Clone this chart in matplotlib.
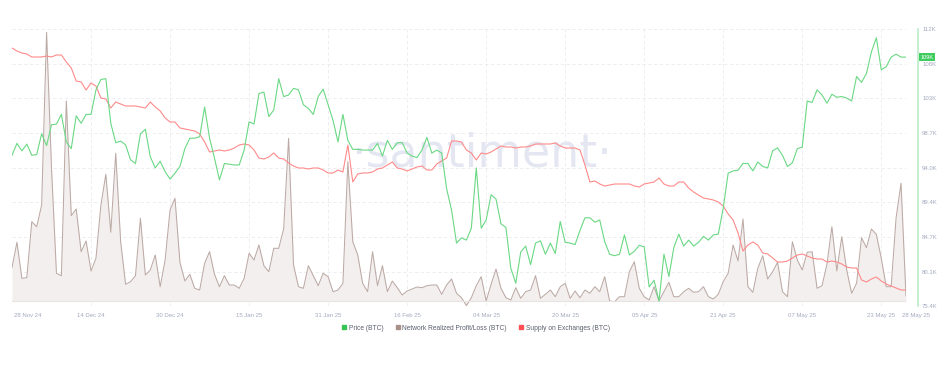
import pandas as pd
import matplotlib.pyplot as plt
from matplotlib.lines import Line2D
import numpy as np

plt.rcParams['font.family'] = ['Liberation Sans', 'DejaVu Sans']

dates = pd.date_range('2024-11-28', '2025-05-28', freq='D')

# BTC price, thousands USD
price = [95.7, 97.3, 96.3, 97.2, 95.7, 95.8, 98.6, 97.0, 99.8, 99.9, 101.2, 97.5, 96.6, 101.0, 100.0, 101.2, 101.2,
         104.5, 105.9, 106.0, 100.0, 97.4, 97.6, 97.1, 95.1, 94.6, 98.6, 99.2, 95.5, 94.0, 94.9, 93.5, 92.5, 93.3,
         94.2, 96.6, 98.0,
         98.0, 98.2, 102.2, 98.0, 95.3, 92.4, 94.6, 94.5, 94.4, 94.4, 96.4, 100.2, 99.9, 104.0, 104.2, 100.9, 101.8,
         106.0, 103.6, 103.8, 104.7, 104.5, 102.5, 102.0, 101.2, 103.6, 104.6, 102.5, 100.4, 97.5, 101.2, 97.7, 96.5,
         96.5, 96.4, 96.4,
         96.4, 97.3, 95.6, 97.7, 96.5, 97.4, 97.4, 96.0, 95.6, 95.4, 96.4, 98.1, 96.0, 96.4, 96.0, 91.2, 88.3, 83.9,
         84.6, 84.3, 85.9, 94.0, 85.9, 87.0, 90.4, 89.8, 86.5, 86.0, 80.5, 78.5, 82.7, 83.5, 81.0, 83.9, 84.2, 82.4,
         83.9, 82.5, 86.8, 84.0, 83.9, 83.7, 85.6, 87.3, 87.3, 86.7, 87.0, 84.1, 82.4, 82.2, 82.4, 85.0, 82.3, 82.8,
         83.6, 83.4, 78.0, 78.9, 76.1, 82.4, 79.4, 83.3, 85.1, 83.5, 84.3, 83.5, 84.0, 84.8, 84.3, 85.0, 85.1, 88.6,
         93.3, 93.6, 93.7, 94.6, 94.6, 93.6, 94.8, 94.2, 94.0, 96.3, 96.7, 95.7, 94.2, 94.7, 96.6, 96.8, 103.0, 102.8,
         104.5, 103.8, 102.7, 103.9, 103.5, 103.6, 103.4, 103.0, 106.3, 105.5, 106.7, 109.6, 111.5, 107.2, 107.6,
         108.9, 109.3, 108.9, 108.9]

# Network realized profit/loss, millions USD (estimated, hidden axis)
nrpl = [333, 587, 227, 233, 793, 743, 960, 2687, 1327, 277, 253, 2000, 853, 920, 493, 600, 300, 427, 960, 1267,
        687, 1477, 593, 167, 193, 253, 827, 260, 310, 460, 143, 410, 910, 1027, 387, 200, 267,
        127, 110, 377, 493, 267, 143, 253, 160, 160, 127, 227, 477, 410, 560, 353, 293, 527, 527, 720, 1627,
        360, 143, 127, 353, 253, 153, 277, 243, 93, 110, 177, 1393, 593, 460, 177, 93,
        493, 153, 353, 93, 200, 133, 60, 100, 120, 140, 133, 153, 160, 160, 67, 160, 220, 77, 33, -47,
        33, 153, 243, 0, 167, 320, 127, 33, 10, 133, 27, 93, 110, 253, 27, 67,
        110, 43, 143, 177, 27, 100, 33, 110, 77, 143, 93, 243, 0, -7, 43, 43, 293, 393, 127, 43,
        10, 143, 0, 93, 187, 43, 43, 93, 127, 87, 93, 143, 43, 20, 67, 193,
        277, 560, 400, 820, 143, 87, 327, 453, 220, 293, 387, 93, 43, 593, 410, 310, 487, 493, 127, 153,
        367, 743, 300, 643, 310, 77, 177, 633, 533, 720, 667, 427, 143, 143, 833, 1177, 53]

# Supply on exchanges, thousands BTC (estimated, hidden axis)
supply = [1453, 1450, 1448, 1447, 1444, 1444, 1444, 1445, 1444, 1446, 1446, 1439, 1433, 1420, 1419, 1411, 1418,
          1415, 1403, 1402, 1393, 1399, 1397, 1395, 1395, 1395, 1394, 1393, 1399, 1394, 1390, 1383, 1379, 1379,
          1373, 1372, 1371,
          1370, 1367, 1359, 1349, 1350, 1351, 1350, 1351, 1353, 1356, 1357, 1356, 1351, 1343, 1342, 1344, 1348,
          1343, 1342, 1338, 1335, 1333, 1333, 1332, 1333, 1333, 1331, 1328, 1328, 1331, 1329, 1356, 1319, 1327,
          1328, 1328,
          1329, 1332, 1333, 1336, 1339, 1333, 1332, 1330, 1332, 1334, 1335, 1331, 1331, 1337, 1340, 1343, 1360,
          1360, 1359, 1351, 1348, 1341, 1348, 1347, 1349, 1352, 1355, 1354, 1354, 1353, 1354, 1354, 1355, 1357,
          1357, 1357,
          1357, 1358, 1355, 1353, 1353, 1353, 1351, 1336, 1319, 1320, 1317, 1315, 1316, 1317, 1317, 1317, 1317,
          1315, 1314, 1317, 1318, 1319, 1323, 1317, 1315, 1315, 1319, 1319, 1313, 1309, 1306, 1303, 1302, 1301,
          1299, 1295,
          1287, 1281, 1268, 1250, 1256, 1259, 1256, 1248, 1247, 1243, 1239, 1239, 1240, 1243, 1246, 1247, 1245,
          1243, 1242, 1242, 1239, 1240, 1239, 1237, 1234, 1233, 1233, 1221, 1219, 1222, 1224, 1220, 1217, 1215,
          1213, 1211, 1211]

price_ticks = [75.4, 80.06, 84.72, 89.38, 94.04, 98.7, 103.36, 108.02, 112.68]
price_labels = ['75.4K', '80.1K', '84.7K', '89.4K', '94.0K', '98.7K', '103K', '108K', '112K']
date_ticks = ['2024-12-14', '2024-12-30', '2025-01-15', '2025-01-31', '2025-02-16', '2025-03-04',
              '2025-03-20', '2025-04-05', '2025-04-21', '2025-05-07', '2025-05-23']

GREEN = '#6ad884'
RED = '#ff8a8a'
BROWN = '#bcaaa5'
LABEL = '#a4aac0'

fig = plt.figure(figsize=(9.45, 3.67), dpi=100)
ax = fig.add_axes([0.0127, 0.1654, 0.946, 0.7556])

ax.text(0.525, 0.55, '·santiment·', transform=ax.transAxes, ha='center', va='center',
        fontsize=33, color='#e4e7f1', family='DejaVu Sans', zorder=0.5)

# network realized profit/loss area
axn = ax.twinx()
axn.fill_between(dates, nrpl, 0, color='#f3efee', linewidth=0)
axn.plot(dates, nrpl, color=BROWN, linewidth=0.75)
axn.axhline(0, color='#e8e2e1', linewidth=0.8)
axn.set_ylim(-53, 2720)
axn.axis('off')

# supply on exchanges
axs = ax.twinx()
axs.plot(dates, supply, color=RED, linewidth=0.8)
axs.set_ylim(1194.7, 1472)
axs.axis('off')

# price
axp = ax.twinx()
axp.plot(dates, price, color=GREEN, linewidth=0.8)
axp.set_ylim(75.4, 112.68)
axp.axis('off')

# base axis: grid + right price scale (set after twinx, which resets tick side)
ax.set_xlim(dates[0], dates[-1])
ax.set_ylim(75.4, 112.68)
ax.set_yticks(price_ticks)
ax.set_yticklabels(price_labels)
ax.yaxis.tick_right()
ax.tick_params(axis='y', length=0, pad=3, labelsize=4.3, labelcolor=LABEL)
ax.set_xticks(pd.to_datetime(date_ticks))
ax.set_xticklabels([pd.Timestamp(d).strftime('%d %b %y') for d in date_ticks])
ax.tick_params(axis='x', length=0, pad=5, labelsize=4.3, labelcolor=LABEL)
ax.grid(True, color='#ebebef', linestyle=(0, (4, 3)), linewidth=0.6)
for s in ['top', 'left', 'bottom']:
    ax.spines[s].set_visible(False)
ax.spines['right'].set_position(('outward', 8.6))
ax.spines['right'].set_color('#bdebc7')
ax.spines['right'].set_linewidth(1.2)

# first / last date labels at the edges
ax.annotate(dates[0].strftime('%d %b %y'), xy=(dates[0], 0), xycoords=('data', 'axes fraction'),
            xytext=(1.5, -5), textcoords='offset points', ha='left', va='top', fontsize=4.3, color=LABEL)
ax.annotate(dates[-1].strftime('%d %b %y'), xy=(dates[-1], 0), xycoords=('data', 'axes fraction'),
            xytext=(-3, -5), textcoords='offset points', ha='left', va='top', fontsize=4.3, color=LABEL)

axp.annotate(f'{price[-1]:.0f}K', xy=(1, price[-1]), xycoords=('axes fraction', 'data'),
             xytext=(10.5, 0), textcoords='offset points', ha='left', va='center', fontsize=4.0,
             color='white', bbox=dict(boxstyle='square,pad=0.25', fc='#3fcc5e', ec='none'),
             annotation_clip=False)

handles = [Line2D([], [], marker='s', linestyle='none', markersize=3.2, color='#37c455'),
           Line2D([], [], marker='s', linestyle='none', markersize=3.2, color='#a99089'),
           Line2D([], [], marker='s', linestyle='none', markersize=3.2, color='#ff4f55')]
fig.legend(handles, ['Price (BTC)', 'Network Realized Profit/Loss (BTC)', 'Supply on Exchanges (BTC)'],
           loc='center', bbox_to_anchor=(0.503, 1 - 328 / 367), ncol=3, frameon=False,
           fontsize=4.8, labelcolor='#5b5f6e', handletextpad=0.2, columnspacing=1.6, handlelength=1.0)

plt.savefig('out.png', dpi=100)
